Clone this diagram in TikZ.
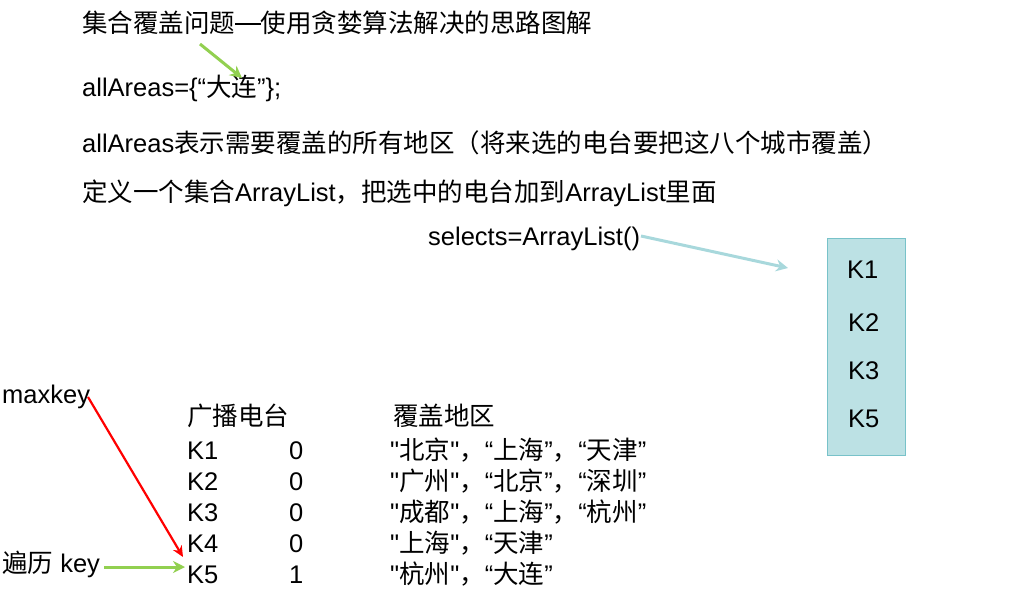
\documentclass[tikz,border=0pt]{standalone}
\usepackage{fontspec}
\setmainfont{Liberation Sans}
\newfontfamily\plainq{Liberation Sans}
\newfontfamily\cjk{Noto Sans CJK SC}
\usetikzlibrary{arrows.meta}
\definecolor{grn}{HTML}{92D050}
\definecolor{lblue}{HTML}{A8D8DC}
\definecolor{boxfill}{HTML}{BCE1E4}
\definecolor{boxline}{HTML}{78C2C9}
\newcommand{\fs}{\fontsize{25.5}{30}\selectfont}
\newcommand{\sq}{{\plainq"}}
\newcommand{\emd}{\rule[0.33em]{1em}{1.3pt}}
\tikzset{
  txt/.style={anchor=base west, inner sep=0pt, font=\fs},
  garrow/.style={draw=grn, line width=3pt, -{Stealth[length=12pt,width=12pt]}},
  rarrow/.style={draw=red, line width=2.2pt, -{Stealth[length=11pt,width=10pt]}},
  barrow/.style={draw=lblue, line width=3pt, -{Stealth[length=12pt,width=12pt]}},
}
\begin{document}
\begin{tikzpicture}[x=1pt,y=-1pt]
\useasboundingbox (0,0) rectangle (1011,596);
% header text
\node[txt] (title) at (82,33) {\cjk 集合覆盖问题\emd 使用贪婪算法解决的思路图解};
\node[txt] (all) at (82,97) {allAreas=\{“{\cjk 大连}”\};};
\node[txt] (desc) at (82,153) {allAreas{\cjk 表示需要覆盖的所有地区（将来选的电台要把这八个城市覆盖）}};
\node[txt] (def) at (82,201) {{\cjk 定义一个集合}ArrayList{\cjk ，把选中的电台加到}ArrayList{\cjk 里面}};
\node[txt] (sel) at (428,245) {selects=ArrayList()};
% selected box
\node[draw=boxline, fill=boxfill, line width=1pt, minimum width=78pt, minimum height=217pt, inner sep=0pt] (box) at (866,346.5) {};
\node[txt] (s1) at (847,278) {K1};
\node[txt] (s2) at (848,331) {K2};
\node[txt] (s3) at (848,379) {K3};
\node[txt] (s5) at (848,427) {K5};
% table
\node[txt] (h1) at (187,425) {\cjk 广播电台};
\node[txt] (h2) at (393,425) {\cjk 覆盖地区};
\node[txt] (k1) at (187,459) {K1};
\node[txt] (k2) at (187,490) {K2};
\node[txt] (k3) at (187,521) {K3};
\node[txt] (k4) at (187,552) {K4};
\node[txt] (k5) at (187,583) {K5};
\node[txt] (v1) at (289,459) {0};
\node[txt] (v2) at (289,490) {0};
\node[txt] (v3) at (289,521) {0};
\node[txt] (v4) at (289,552) {0};
\node[txt] (v5) at (289,583) {1};
\node[txt] (a1) at (390,459) {\sq{\cjk 北京}\sq{\cjk ，}“{\cjk 上海}”{\cjk ，}“{\cjk 天津}”};
\node[txt] (a2) at (390,490) {\sq{\cjk 广州}\sq{\cjk ，}“{\cjk 北京}”{\cjk ，}“{\cjk 深圳}”};
\node[txt] (a3) at (390,521) {\sq{\cjk 成都}\sq{\cjk ，}“{\cjk 上海}”{\cjk ，}“{\cjk 杭州}”};
\node[txt] (a4) at (390,552) {\sq{\cjk 上海}\sq{\cjk ，}“{\cjk 天津}”};
\node[txt] (a5) at (390,583) {\sq{\cjk 杭州}\sq{\cjk ，}“{\cjk 大连}”};
% side labels
\node[txt] (maxkey) at (2,403) {maxkey};
\node[txt] (iter) at (2,572) {{\cjk 遍历} key};
% arrows
\coordinate (gA) at (200,44);
\coordinate (gB) at (242,78);
\draw[garrow] (gA) -- (gB);
\coordinate (bA) at (641,236);
\coordinate (bB) at (788,268);
\draw[barrow] (bA) -- (bB);
\coordinate (rA) at (88,397);
\coordinate (rB) at (183,557);
\draw[rarrow] (rA) -- (rB);
\coordinate (iA) at (104,567);
\coordinate (iB) at (185,567);
\draw[garrow] (iA) -- (iB);
\end{tikzpicture}
\end{document}
